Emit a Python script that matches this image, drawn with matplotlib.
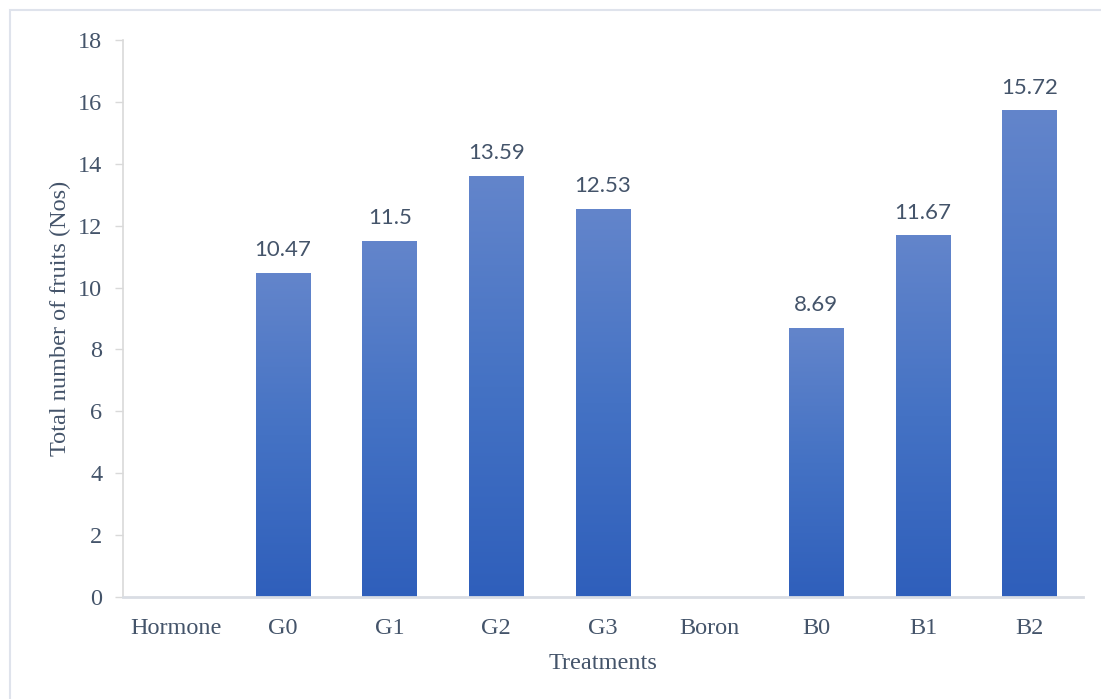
import numpy as np
import matplotlib.pyplot as plt
from matplotlib.patches import Rectangle
from matplotlib.colors import LinearSegmentedColormap

# treatments, with the two group headings left empty
treatments = ['Hormone', 'G0', 'G1', 'G2', 'G3', 'Boron', 'B0', 'B1', 'B2']
fruits = [0, 10.47, 11.5, 13.59, 12.53, 0, 8.69, 11.67, 15.72]
labels = ['', '10.47', '11.5', '13.59', '12.53', '', '8.69', '11.67', '15.72']
yticks = [0, 2, 4, 6, 8, 10, 12, 14, 16, 18]

text_col = '#44546a'
grid_col = '#d9d9d9'
serif = 'Liberation Serif'

fig = plt.figure(figsize=(11.01, 6.99), dpi=100)
ax = fig.add_axes([123 / 1101, 1 - 597 / 699, 960 / 1101, 557 / 699])

# outer chart border (runs off the right and bottom edges)
fig.patches.append(Rectangle((10 / 1101, -0.05), 1.2, 1 - 10 / 699 + 0.05,
                             transform=fig.transFigure, fill=False,
                             edgecolor='#dfe3ec', linewidth=1.5))

x = np.arange(len(treatments))
bars = ax.bar(x, fruits, width=0.515, color='none', zorder=2)

grad = LinearSegmentedColormap.from_list('bar', ['#2f5fbb', '#4472c4', '#6385cb'])
g = np.linspace(0, 1, 256).reshape(-1, 1)
for b, lab in zip(bars, labels):
    h = b.get_height()
    if h <= 0:
        continue
    x0 = b.get_x()
    ax.imshow(g, extent=[x0, x0 + b.get_width(), 0, h], origin='lower',
              cmap=grad, aspect='auto', zorder=2)
    ax.text(b.get_x() + b.get_width() / 2, h + 0.42, lab, ha='center', va='bottom',
            fontsize=16, color=text_col, family='Lato')

ax.set_xlim(-0.5, len(treatments) - 0.5)
ax.set_ylim(0, 18)
ax.set_xticks(x)
ax.set_xticklabels(treatments, fontsize=17.5, color=text_col, family=serif)
ax.set_yticks(yticks)
ax.set_yticklabels([str(v) for v in yticks], fontsize=17.5, color=text_col, family=serif)
ax.tick_params(axis='x', length=0, pad=15)
ax.tick_params(axis='y', length=6, width=1, color=grid_col, pad=9)

for s in ['top', 'right']:
    ax.spines[s].set_visible(False)
ax.spines['left'].set_color(grid_col)
ax.spines['left'].set_linewidth(1.2)
ax.spines['bottom'].set_color('#d9dde4')
ax.spines['bottom'].set_linewidth(2)
ax.spines['bottom'].set_zorder(3)

ax.set_xlabel('Treatments', fontsize=17.5, color=text_col, family=serif, labelpad=10)
ax.set_ylabel('Total number of fruits (Nos)', fontsize=17.5, color=text_col,
              family=serif, labelpad=5)

fig.savefig('out.png', dpi=100)
